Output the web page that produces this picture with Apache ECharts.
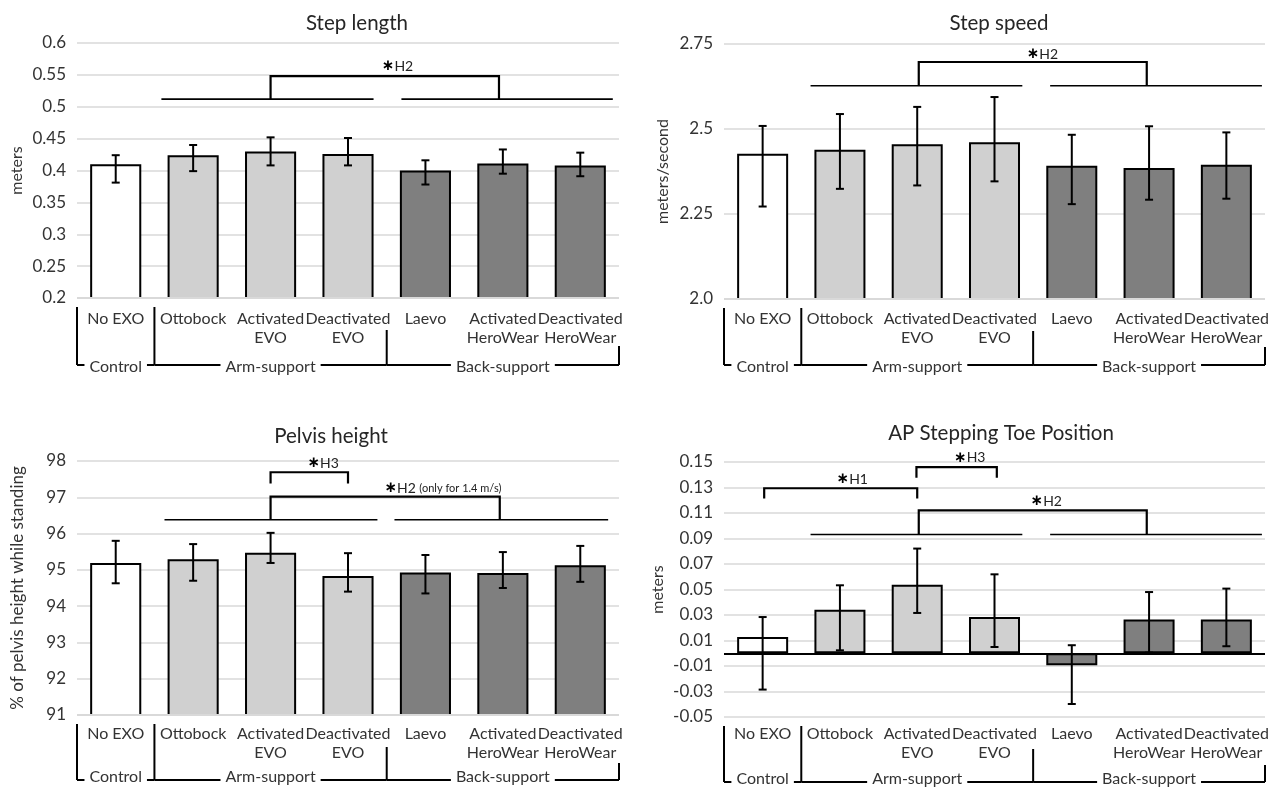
<!DOCTYPE html>
<html>
<head>
<meta charset="utf-8">
<script src="https://cdn.jsdelivr.net/npm/echarts@6/dist/echarts.min.js"></script>
<style>
  html, body { margin: 0; padding: 0; background: #fff; }
  #main { width: 1286px; height: 788px; }
</style>
</head>
<body>
<div id="main"></div>
<script>
const categories = ['No EXO', 'Ottobock', 'Activated\nEVO', 'Deactivated\nEVO', 'Laevo', 'Activated\nHeroWear', 'Deactivated\nHeroWear'];
const groups = [
  {name: 'Control', from: 0, to: 0},
  {name: 'Arm-support', from: 1, to: 3},
  {name: 'Back-support', from: 4, to: 6}
];

// Step length (m)
const stepLengthMean = [0.410, 0.424, 0.430, 0.426, 0.400, 0.411, 0.408];
const stepLengthLow = [0.381, 0.399, 0.408, 0.408, 0.378, 0.395, 0.391];
const stepLengthHigh = [0.424, 0.440, 0.452, 0.451, 0.416, 0.433, 0.428];

// Step speed (m/s)
const stepSpeedMean = [2.427, 2.439, 2.455, 2.461, 2.392, 2.385, 2.395];
const stepSpeedLow = [2.272, 2.324, 2.334, 2.346, 2.279, 2.292, 2.295];
const stepSpeedHigh = [2.509, 2.544, 2.565, 2.594, 2.483, 2.508, 2.490];

// Pelvis height (% of standing)
const pelvisMean = [95.19, 95.29, 95.47, 94.83, 94.93, 94.91, 95.13];
const pelvisLow = [94.63, 94.70, 95.19, 94.40, 94.35, 94.50, 94.67];
const pelvisHigh = [95.80, 95.71, 96.02, 95.46, 95.41, 95.49, 95.66];

// AP stepping toe position (m)
const toeMean = [0.0127, 0.0341, 0.0538, 0.0284, -0.0094, 0.0264, 0.0264];
const toeLow = [-0.0285, 0.0023, 0.0316, 0.0049, -0.0398, 0.0005, 0.0055];
const toeHigh = [0.0284, 0.0533, 0.0821, 0.0619, 0.0063, 0.0480, 0.0507];

// significance annotations, x in category units (0 = first bar)
// lines: [x1, x2, y]   brackets: [x1, x2, top, leftEnd, rightEnd]   notes: [text, x, y, align]
const lengthLines = [[0.59, 3.33, 0.512], [3.69, 6.42, 0.512]];
const lengthBrackets = [[2, 4.95, 0.548, 0.512, 0.512]];
const lengthNotes = [['{s|∗}H2', 3.64, 0.563]];

const speedLines = [[0.62, 3.36, 2.627], [3.72, 6.46, 2.627]];
const speedBrackets = [[2.02, 4.97, 2.697, 2.627, 2.627]];
const speedNotes = [['{s|∗}H2', 3.62, 2.719]];

const pelvisLines = [[0.63, 3.38, 96.38], [3.60, 6.36, 96.38]];
const pelvisBrackets = [[2, 4.96, 97.02, 96.38, 96.38], [2, 3.0, 97.69, 97.38, 97.38]];
const pelvisNotes = [['{s|∗}H3', 2.68, 97.94], ['{s|∗}H2 {m|(only for 1.4 m/s)}', 3.47, 97.25, 'left']];

const toeLines = [[0.62, 3.36, 0.0931], [3.72, 6.46, 0.0931]];
const toeBrackets = [[2.02, 4.97, 0.1121, 0.0931, 0.0931], [0.02, 2.0, 0.1294, 0.1213, 0.1213], [1.99, 3.03, 0.146, 0.1377, 0.1377]];
const toeNotes = [['{s|∗}H2', 3.67, 0.1192], ['{s|∗}H1', 1.16, 0.1364], ['{s|∗}H3', 2.68, 0.1532]];

const FONT = 'Lato';
const fills = ['#ffffff', '#d0d0d0', '#7f7f7f'];
const separatorDrop = [9, 9, 32, 48];

function groupOf(i) {
  return groups.findIndex(g => i >= g.from && i <= g.to);
}

const panels = [
  {title: 'Step length', titleX: 352, titleTop: 8, yName: 'meters', nameGap: 52, nameSize: 16,
   grid: {left: 77, top: 43, width: 542, height: 255}, labelMargin: 11, groupGap: 67, groupText: 2,
   y: {min: 0.2, max: 0.6, interval: 0.05}, fmt: v => String(parseFloat(v.toFixed(2))),
   mean: stepLengthMean, low: stepLengthLow, high: stepLengthHigh,
   lines: lengthLines, brackets: lengthBrackets, notes: lengthNotes},
  {title: 'Step speed', titleX: 994, titleTop: 8, yName: 'meters/second', nameGap: 53, nameSize: 16,
   grid: {left: 724, top: 44, width: 541, height: 255}, labelMargin: 10, groupGap: 66, groupText: 2,
   y: {min: 2, max: 2.75, interval: 0.25}, fmt: v => (v % 1 === 0 ? v.toFixed(1) : String(parseFloat(v.toFixed(2)))),
   mean: stepSpeedMean, low: stepSpeedLow, high: stepSpeedHigh,
   lines: speedLines, brackets: speedBrackets, notes: speedNotes},
  {title: 'Pelvis height', titleX: 326, titleTop: 421, yName: '% of pelvis height while standing', nameGap: 51, nameSize: 17,
   grid: {left: 77, top: 461, width: 542, height: 254}, labelMargin: 9, groupGap: 65, groupText: -3,
   y: {min: 91, max: 98, interval: 1}, fmt: v => String(Math.round(v)),
   mean: pelvisMean, low: pelvisLow, high: pelvisHigh,
   lines: pelvisLines, brackets: pelvisBrackets, notes: pelvisNotes},
  {title: 'AP Stepping Toe Position', titleX: 996, titleTop: 418, yName: 'meters', nameGap: 58, nameSize: 16,
   grid: {left: 724, top: 462, width: 541, height: 255}, labelMargin: 7, groupGap: 65, groupText: -3,
   y: {min: -0.05, max: 0.15, interval: 0.02}, fmt: v => v.toFixed(2),
   mean: toeMean, low: toeLow, high: toeHigh, zeroLine: true,
   lines: toeLines, brackets: toeBrackets, notes: toeNotes}
];

function errorBarItem(params, api) {
  const x = api.value(0);
  const lo = api.coord([x, api.value(1)]);
  const hi = api.coord([x, api.value(2)]);
  const cap = 4;
  const st = {stroke: '#000', lineWidth: 2};
  return {
    type: 'group',
    children: [
      {type: 'line', shape: {x1: hi[0], y1: hi[1], x2: lo[0], y2: lo[1]}, style: st},
      {type: 'line', shape: {x1: hi[0] - cap, y1: hi[1], x2: hi[0] + cap, y2: hi[1]}, style: st},
      {type: 'line', shape: {x1: lo[0] - cap, y1: lo[1], x2: lo[0] + cap, y2: lo[1]}, style: st}
    ]
  };
}

// second level of the category axis (Control / Arm-support / Back-support)
function groupAxisRenderer(p) {
  return function (params, api) {
    const gi = params.dataIndex;
    const cs = params.coordSys;
    const bottom = cs.y + cs.height;
    const band = api.size([1, 0])[0];
    const x0 = api.coord([api.value(0), api.value(2)])[0] - band / 2;
    const x1 = api.coord([api.value(1), api.value(2)])[0] + band / 2;
    const lineY = bottom + p.groupGap;
    const st = {stroke: '#000', lineWidth: 2};
    const children = [
      {type: 'line', shape: {x1: x0, y1: lineY, x2: x1, y2: lineY}, style: st},
      {type: 'line', shape: {x1: x0, y1: bottom + separatorDrop[gi], x2: x0, y2: lineY}, style: st}
    ];
    if (gi === groups.length - 1) {
      children.push({type: 'line', shape: {x1: x1, y1: bottom + separatorDrop[gi + 1], x2: x1, y2: lineY}, style: st});
    }
    children.push({
      type: 'text', x: (x0 + x1) / 2, y: lineY + p.groupText, z2: 10,
      style: {
        text: groups[gi].name, fontFamily: FONT, fontSize: 16, fill: '#333',
        align: 'center', verticalAlign: 'middle', backgroundColor: '#fff', padding: [0, 5]
      }
    });
    return {type: 'group', children};
  };
}

function annotationRenderer(p) {
  return function (params, api) {
    const P = (x, y) => api.coord([x, y]);
    const thin = {stroke: '#000', lineWidth: 1.6, fill: null};
    const thick = {stroke: '#000', lineWidth: 2.2, fill: null};
    const children = [];
    if (!p.zeroLine) {
      // keep the bottom gridline grey over the bar borders
      const s = P(-0.5, p.y.min), e = P(6.5, p.y.min);
      children.push({type: 'line', shape: {x1: s[0], y1: s[1], x2: e[0], y2: e[1]}, style: {stroke: '#d9d9d9', lineWidth: 2}});
    }
    p.lines.forEach(([a, b, y]) => {
      const s = P(a, y), e = P(b, y);
      children.push({type: 'line', shape: {x1: s[0], y1: s[1], x2: e[0], y2: e[1]}, style: thin});
    });
    p.brackets.forEach(([a, b, top, la, lb]) => {
      children.push({type: 'polyline', shape: {points: [P(a, la), P(a, top), P(b, top), P(b, lb)]}, style: thick});
    });
    p.notes.forEach(([text, x, y, align]) => {
      const pt = P(x, y);
      children.push({
        type: 'text', x: pt[0], y: pt[1],
        style: {
          text: text, fontFamily: FONT, fontSize: 14, fill: '#222',
          align: align || 'center', verticalAlign: 'middle',
          rich: {
            s: {fontFamily: 'DejaVu Sans', fontWeight: 'bold', fontSize: 15, fill: '#000'},
            m: {fontFamily: FONT, fontSize: 11, fill: '#222'}
          }
        }
      });
    });
    return {type: 'group', children};
  };
}

const option = {
  animation: false,
  backgroundColor: '#fff',
  title: [], grid: [], xAxis: [], yAxis: [], series: []
};

panels.forEach((p, k) => {
  option.title.push({
    text: p.title, left: p.titleX, top: p.titleTop, textAlign: 'center',
    textStyle: {fontFamily: FONT, fontSize: 20.5, fontWeight: 'normal', color: '#262626'}
  });
  option.grid.push(Object.assign({containLabel: false}, p.grid));
  option.xAxis.push({
    type: 'category', gridIndex: k, data: categories,
    axisLine: {show: false}, axisTick: {show: false},
    axisLabel: {interval: 0, margin: p.labelMargin, fontFamily: FONT, fontSize: 16, lineHeight: 19, color: '#333'}
  });
  option.xAxis.push({type: 'value', gridIndex: k, min: -0.5, max: 6.5, show: false});
  option.yAxis.push({
    type: 'value', gridIndex: k, min: p.y.min, max: p.y.max, interval: p.y.interval,
    name: p.yName, nameLocation: 'middle', nameGap: p.nameGap,
    nameTextStyle: {fontFamily: FONT, fontSize: p.nameSize, color: '#333'},
    axisLine: {show: false}, axisTick: {show: false},
    axisLabel: {margin: 11, fontFamily: FONT, fontSize: 17, color: '#333', formatter: p.fmt},
    splitLine: {lineStyle: {color: '#d9d9d9', width: 1.5}}
  });
  const bar = {
    type: 'bar', xAxisIndex: 2 * k, yAxisIndex: k, barWidth: '66%',
    data: p.mean.map((v, i) => ({value: v, itemStyle: {color: fills[groupOf(i)]}})),
    itemStyle: {borderColor: '#000', borderWidth: 2},
    emphasis: {disabled: true}, z: 2
  };
  if (p.zeroLine) {
    bar.markLine = {
      silent: true, symbol: 'none', label: {show: false},
      lineStyle: {color: '#000', width: 2, type: 'solid'},
      data: [{yAxis: 0}]
    };
  }
  option.series.push(bar);
  option.series.push({
    type: 'custom', xAxisIndex: 2 * k, yAxisIndex: k, z: 4, silent: true,
    renderItem: errorBarItem, encode: {x: 0, y: [1, 2]},
    data: p.mean.map((_, i) => [i, p.low[i], p.high[i]])
  });
  option.series.push({
    type: 'custom', xAxisIndex: 2 * k, yAxisIndex: k, z: 4, silent: true, clip: false,
    renderItem: groupAxisRenderer(p), encode: {x: [0, 1], y: 2},
    data: groups.map(g => [g.from, g.to, p.y.min])
  });
  option.series.push({
    type: 'custom', xAxisIndex: 2 * k + 1, yAxisIndex: k, z: 3, silent: true, clip: false,
    renderItem: annotationRenderer(p), encode: {x: 0, y: 1},
    data: [[3, (p.y.min + p.y.max) / 2]]
  });
});

const chart = echarts.init(document.getElementById('main'));
chart.setOption(option);
</script>
</body>
</html>
